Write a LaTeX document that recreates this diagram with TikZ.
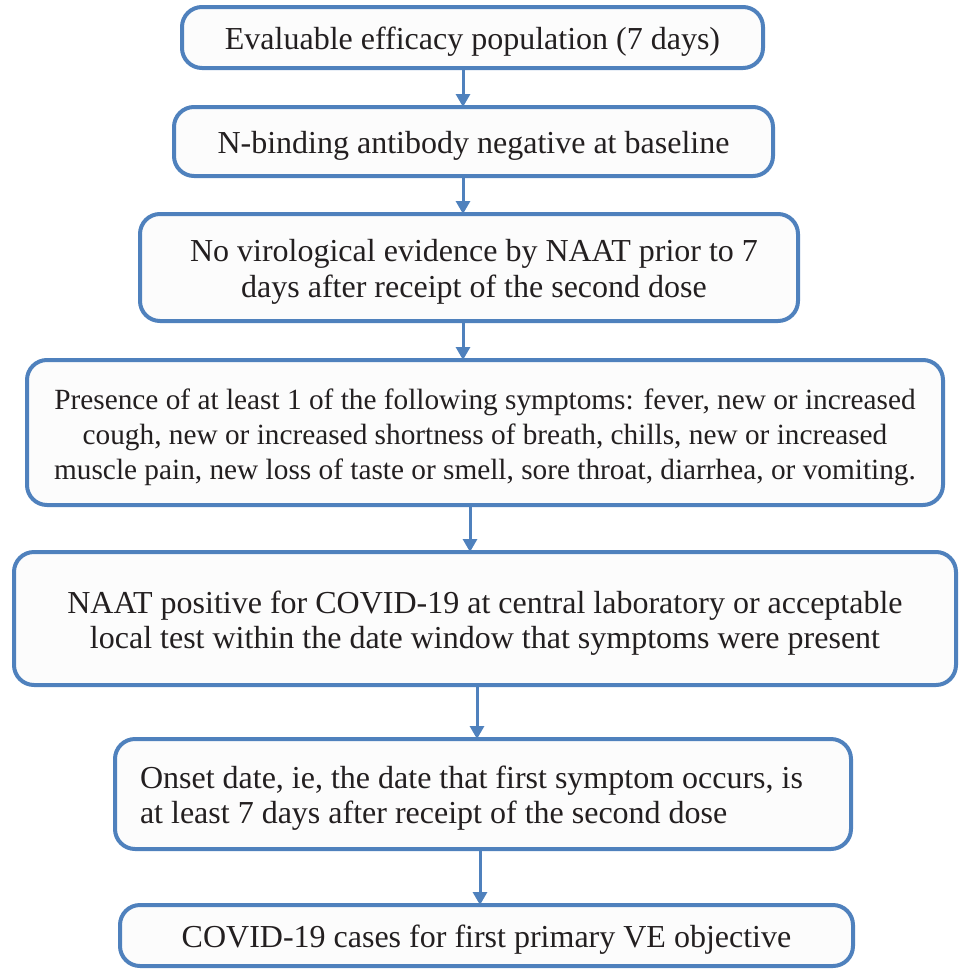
\documentclass[tikz,border=0pt]{standalone}
\usepackage{fontspec}
\setmainfont{Liberation Serif}
\usetikzlibrary{arrows.meta}
\definecolor{bord}{HTML}{4F81BD}
\definecolor{txt}{HTML}{231F20}
\newcommand{\boxtext}[2][c]{\raisebox{-5pt}[\height][\depth]{\begin{tabular}{@{}#1@{}}#2\end{tabular}}}
\begin{document}
\begin{tikzpicture}[x=1pt,y=-1pt,
  box/.style={draw=bord,line width=4pt,rounded corners=20pt,fill=black!1,text=txt,inner sep=0pt},
  big/.style={font=\fontsize{32}{36}\selectfont},
  mid/.style={font=\fontsize{32}{35}\selectfont},
  small/.style={font=\fontsize{29.3}{35}\selectfont},
  arr/.style={draw=bord,line width=3pt,-{Triangle[width=14pt,length=13pt]},shorten >=-2pt}]
\useasboundingbox (0,0) rectangle (960,970);
\node[box,big,minimum width=581pt,minimum height=61pt] (b1) at (472.5,37.5) {\boxtext{Evaluable efficacy population (7 days)}};
\node[box,big,minimum width=599pt,minimum height=69pt] (b2) at (473.5,141.5) {\boxtext{N-binding antibody negative at baseline}};
\node[box,big,minimum width=658pt,minimum height=107pt] (b3) at (469,267.5) {\hspace*{10pt}\boxtext{No virological evidence by NAAT prior to 7\\days after receipt of the second dose}};
\node[box,small,minimum width=916pt,minimum height=145pt] (b4) at (485,432.5) {\boxtext{Presence of at least 1 of the following symptoms: fever, new or increased\\cough, new or increased shortness of breath, chills, new or increased\\muscle pain, new loss of taste or smell, sore throat, diarrhea, or vomiting.}};
\node[box,mid,minimum width=942pt,minimum height=133pt] (b5) at (485,618.5) {\boxtext{NAAT positive for COVID-19 at central laboratory or acceptable\\local test within the date window that symptoms were present}};
\node[box,mid,minimum width=736pt,minimum height=110pt] (b6) at (483,794) {\makebox[686pt][l]{\boxtext[l]{Onset date, ie, the date that first symptom occurs, is\\at least 7 days after receipt of the second dose}}};
\node[box,big,minimum width=733pt,minimum height=61pt] (b7) at (486.5,935.5) {\boxtext{COVID-19 cases for first primary VE objective}};
\coordinate (x1) at (463,0);
\coordinate (x4) at (470,0);
\coordinate (x5) at (477,0);
\coordinate (x6) at (480,0);
\draw[arr] (b1.south -| x1) -- (b2.north -| x1);
\draw[arr] (b2.south -| x1) -- (b3.north -| x1);
\draw[arr] (b3.south -| x1) -- (b4.north -| x1);
\draw[arr] (b4.south -| x4) -- (b5.north -| x4);
\draw[arr] (b5.south -| x5) -- (b6.north -| x5);
\draw[arr] (b6.south -| x6) -- (b7.north -| x6);
\end{tikzpicture}
\end{document}
